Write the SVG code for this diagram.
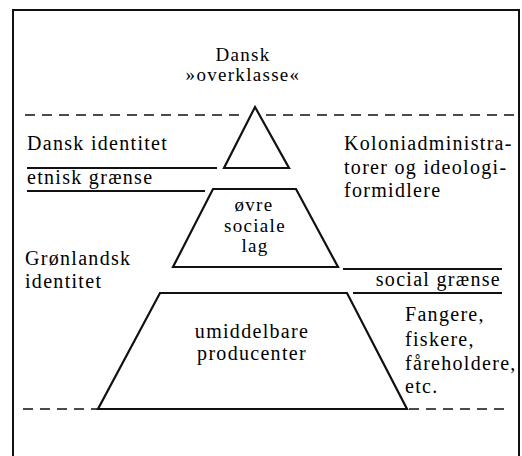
<svg xmlns="http://www.w3.org/2000/svg" width="522" height="456" viewBox="0 0 522 456">
<style>
text{font-family:'Liberation Serif','DejaVu Serif',serif;font-size:20px;letter-spacing:1.3px;fill:#000}
.c{text-anchor:middle}
.e{text-anchor:end}
.tight{font-size:19px}
.shape{fill:#fff;stroke:#111;stroke-width:2.2;stroke-linejoin:miter}
.solid{stroke:#111;stroke-width:2;fill:none}
.dash{stroke:#111;stroke-width:1.6;stroke-dasharray:10 7;fill:none}
.frame{fill:none;stroke:#111;stroke-width:2}
</style>
<rect width="522" height="456" fill="#fff"/>
<rect class="frame" x="13" y="10" width="506" height="470"/>
<g id="connectors">
<line class="dash" x1="25" y1="115" x2="245" y2="115"/>
<line class="dash" x1="266" y1="115" x2="514" y2="115"/>
<line class="solid" x1="27" y1="168" x2="217" y2="168"/>
<line class="solid" x1="27" y1="191" x2="205" y2="191"/>
<line class="solid" x1="343" y1="269" x2="502" y2="269"/>
<line class="solid" x1="353" y1="293" x2="502" y2="293"/>
<line class="dash" x1="23" y1="409" x2="98" y2="409"/>
<line class="dash" x1="409" y1="409" x2="508" y2="409"/>
</g>
<g id="top-label">
<text class="c tight" x="243" y="61">Dansk</text>
<text class="c tight" x="243" y="81">»overklasse«</text>
</g>
<g id="triangle">
<polygon class="shape" points="255,107 289,168 224,168"/>
</g>
<g id="upper-layer">
<polygon class="shape" points="213,189 296,189 338,267 173,267"/>
<text class="c tight" x="254" y="211">øvre</text>
<text class="c tight" x="255" y="232">sociale</text>
<text class="c tight" x="255" y="252">lag</text>
</g>
<g id="producers">
<polygon class="shape" points="160,293 347,293 407,409 98,409"/>
<text class="c" x="252" y="338">umiddelbare</text>
<text class="c" x="252" y="360">producenter</text>
</g>
<g id="dansk-identitet">
<text x="27" y="150">Dansk identitet</text>
</g>
<g id="etnisk-graense">
<text x="27" y="184">etnisk grænse</text>
</g>
<g id="kolonial">
<text x="344" y="150">Koloniadministra-</text>
<text x="344" y="174">torer og ideologi-</text>
<text x="344" y="197">formidlere</text>
</g>
<g id="groenlandsk-identitet">
<text x="25" y="265">Grønlandsk</text>
<text x="25" y="288">identitet</text>
</g>
<g id="social-graense">
<text class="e" x="501" y="286">social grænse</text>
</g>
<g id="fangere">
<text x="405" y="321">Fangere,</text>
<text x="405" y="346">fiskere,</text>
<text x="405" y="370">fåreholdere,</text>
<text x="405" y="393">etc.</text>
</g>
</svg>
